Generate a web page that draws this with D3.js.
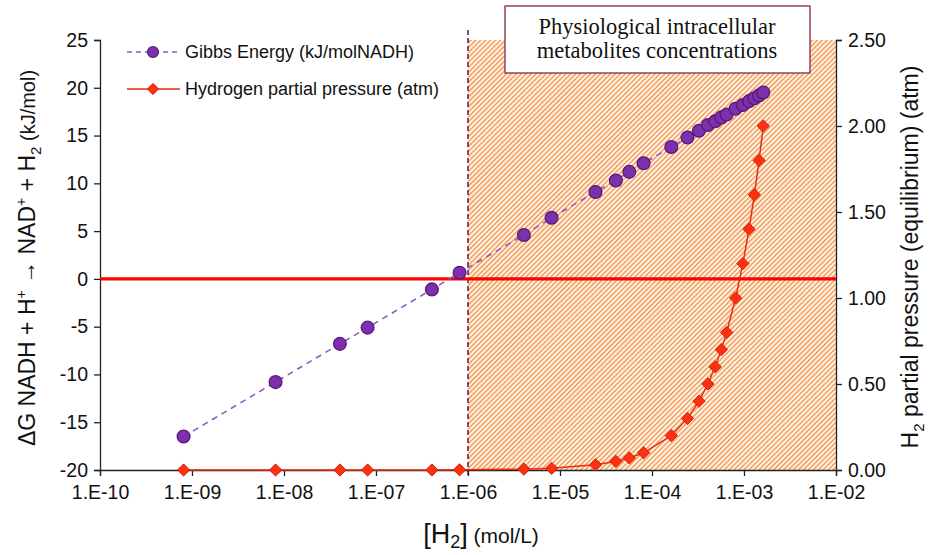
<!DOCTYPE html>
<html>
<head>
<meta charset="utf-8">
<script src="https://cdn.jsdelivr.net/npm/d3@7"></script>
<style>
  body { margin: 0; background: #fff; }
  svg { display: block; }
  text { font-family: "Liberation Sans", Arial, sans-serif; fill: #111; }
</style>
</head>
<body>
<svg id="chart" width="945" height="555"></svg>
<script>
// [H2] concentrations (mol/L) shared by both series
var conc = [8.1e-10, 8.1e-9, 4.05e-8, 8.1e-8, 4.05e-7, 8.1e-7, 4.05e-6, 8.1e-6,
            2.43e-5, 4.05e-5, 5.67e-5, 8.1e-5, 1.62e-4, 2.43e-4, 3.24e-4, 4.05e-4,
            4.86e-4, 5.67e-4, 6.48e-4, 8.1e-4, 9.72e-4, 1.134e-3, 1.296e-3, 1.458e-3, 1.62e-3];
// Gibbs energy (kJ/mol NADH)
var gibbs = [-16.5, -10.8, -6.8, -5.1, -1.1, 0.65, 4.6, 6.4,
             9.1, 10.3, 11.2, 12.1, 13.8, 14.8, 15.5, 16.1,
             16.5, 16.9, 17.2, 17.8, 18.2, 18.6, 18.9, 19.2, 19.5];
// hydrogen partial pressure (atm)
var pressure = [0, 0, 0, 0, 0, 0.001, 0.005, 0.01,
                0.03, 0.05, 0.07, 0.1, 0.2, 0.3, 0.4, 0.5,
                0.6, 0.7, 0.8, 1.0, 1.2, 1.4, 1.6, 1.8, 2.0];

var xTicks = [1e-10, 1e-9, 1e-8, 1e-7, 1e-6, 1e-5, 1e-4, 1e-3, 1e-2];
var leftTicks = [-20, -15, -10, -5, 0, 5, 10, 15, 20, 25];
var rightTicks = [0, 0.5, 1.0, 1.5, 2.0, 2.5];
var zoneStart = 1e-6;   // physiological region begins here
var boxLines = ["Physiological intracellular", "metabolites concentrations"];

var pLeft = 100, pRight = 836, pTop = 40, pBottom = 470;

var svg = d3.select("#chart");

var x = d3.scaleLog().domain([1e-10, 1e-2]).range([pLeft, pRight]);
var yL = d3.scaleLinear().domain([-20, 25]).range([pBottom, pTop]);
var yR = d3.scaleLinear().domain([0, 2.5]).range([pBottom, pTop]);

// hatch pattern for the physiological zone
var defs = svg.append("defs");
var pat = defs.append("pattern")
    .attr("id", "hatch")
    .attr("patternUnits", "userSpaceOnUse")
    .attr("width", 3.5).attr("height", 3.5)
    .attr("patternTransform", "rotate(45)");
pat.append("rect").attr("width", 3.5).attr("height", 3.5).attr("fill", "#fff6ec");
pat.append("line")
    .attr("x1", 0.8).attr("y1", 0).attr("x2", 0.8).attr("y2", 3.5)
    .attr("stroke", "#f39a55").attr("stroke-width", 1.5);

svg.append("rect")
    .attr("x", x(zoneStart)).attr("y", pTop)
    .attr("width", pRight - x(zoneStart)).attr("height", pBottom - pTop)
    .attr("fill", "url(#hatch)");

// dashed boundary
svg.append("line")
    .attr("x1", x(zoneStart)).attr("x2", x(zoneStart))
    .attr("y1", pTop - 10).attr("y2", pBottom + 8)
    .attr("stroke", "#6e2446").attr("stroke-width", 1.6)
    .attr("stroke-dasharray", "5,3");

// axes
var xAxis = d3.axisBottom(x).tickValues(xTicks).tickSize(6)
    .tickFormat(function(d) { return "1.E-" + String(-Math.round(Math.log10(d))).padStart(2, "0"); });
var gx = svg.append("g").attr("transform", "translate(0," + pBottom + ")").call(xAxis);

var gl = svg.append("g").attr("transform", "translate(" + pLeft + ",0)")
    .call(d3.axisLeft(yL).tickValues(leftTicks).tickSize(6)
      .tickFormat(function(d) { return String(d); }));

var gr = svg.append("g").attr("transform", "translate(" + pRight + ",0)")
    .call(d3.axisRight(yR).tickValues(rightTicks).tickSize(6).tickFormat(d3.format(".2f")));

[gx, gl, gr].forEach(function(g) {
  g.select(".domain").attr("stroke", "#222").attr("stroke-width", 1.3);
  g.selectAll(".tick line").attr("stroke", "#222").attr("stroke-width", 1.3);
  g.selectAll(".tick text").style("font-size", "19.5px").attr("fill", "#111")
    .style("font-family", "'Liberation Sans', Arial, sans-serif");
});
gx.selectAll(".tick text").attr("dy", "1.0em");
gl.selectAll(".tick text").attr("x", -12);
gr.selectAll(".tick text").attr("x", 12);

// zero line
svg.append("line")
    .attr("x1", pLeft).attr("x2", pRight)
    .attr("y1", yL(0)).attr("y2", yL(0))
    .attr("stroke", "#ff0000").attr("stroke-width", 3.2);

var rows = conc.map(function(c, i) { return { c: c, g: gibbs[i], p: pressure[i] }; });

// pressure series
svg.append("path").datum(rows)
    .attr("fill", "none").attr("stroke", "#ee2a14").attr("stroke-width", 1.5)
    .attr("d", d3.line().x(function(d) { return x(d.c); }).y(function(d) { return yR(d.p); }));

var diamond = d3.symbol().type(d3.symbolDiamond2).size(95);
svg.append("g").selectAll("path").data(rows).enter().append("path")
    .attr("d", diamond)
    .attr("transform", function(d) { return "translate(" + x(d.c) + "," + yR(d.p) + ")"; })
    .attr("fill", "#ff3010").attr("stroke", "#c8200a").attr("stroke-width", 1);

// gibbs series
svg.append("path").datum(rows)
    .attr("fill", "none").attr("stroke", "#8a5cc0").attr("stroke-width", 1.6)
    .attr("stroke-dasharray", "6,5")
    .attr("d", d3.line().x(function(d) { return x(d.c); }).y(function(d) { return yL(d.g); }));

svg.append("g").selectAll("circle").data(rows).enter().append("circle")
    .attr("cx", function(d) { return x(d.c); })
    .attr("cy", function(d) { return yL(d.g); })
    .attr("r", 6.4)
    .attr("fill", "#7d2fae").attr("stroke", "#561b78").attr("stroke-width", 1.3);

// legend
var lg = svg.append("g");
lg.append("line").attr("x1", 127).attr("x2", 180).attr("y1", 52).attr("y2", 52)
    .attr("stroke", "#8a5cc0").attr("stroke-width", 1.6).attr("stroke-dasharray", "5,4");
lg.append("circle").attr("cx", 153).attr("cy", 52).attr("r", 5.5)
    .attr("fill", "#7d2fae").attr("stroke", "#561b78").attr("stroke-width", 1.2);
lg.append("text").attr("x", 185).attr("y", 58).style("font-size", "18px")
    .text("Gibbs Energy (kJ/molNADH)");
lg.append("line").attr("x1", 127).attr("x2", 180).attr("y1", 89).attr("y2", 89)
    .attr("stroke", "#ee2a14").attr("stroke-width", 1.5);
lg.append("path").attr("d", d3.symbol().type(d3.symbolDiamond2).size(80))
    .attr("transform", "translate(153,89)")
    .attr("fill", "#ff3010").attr("stroke", "#c8200a");
lg.append("text").attr("x", 185).attr("y", 95).style("font-size", "18px")
    .text("Hydrogen partial pressure (atm)");

// annotation box
svg.append("rect").attr("x", 505).attr("y", 6).attr("width", 305).attr("height", 67)
    .attr("fill", "#fff").attr("stroke", "#8c3658").attr("stroke-width", 1.4);
svg.append("g").selectAll("text").data(boxLines).enter().append("text")
    .attr("x", 657).attr("y", function(d, i) { return 34 + i * 24; })
    .attr("text-anchor", "middle")
    .style("font-family", "'Liberation Serif', 'DejaVu Serif', serif")
    .style("font-size", "22.5px")
    .text(function(d) { return d; });

// left axis title
var lt = svg.append("text")
    .attr("transform", "translate(35," + 258 + ") rotate(-90)")
    .attr("text-anchor", "middle")
    .style("font-size", "23px");
lt.append("tspan").text("\u0394G NADH + H");
lt.append("tspan").attr("dy", -9).style("font-size", "14px").text("+");
lt.append("tspan").attr("dy", 9).text(" \u2192 NAD");
lt.append("tspan").attr("dy", -9).style("font-size", "14px").text("+");
lt.append("tspan").attr("dy", 9).text(" + H");
lt.append("tspan").attr("dy", 6).style("font-size", "15px").text("2");
lt.append("tspan").attr("dy", -6).style("font-size", "20px").text("  (kJ/mol)");

// right axis title
var rt = svg.append("text")
    .attr("transform", "translate(918," + 257 + ") rotate(-90)")
    .attr("text-anchor", "middle")
    .style("font-size", "23px");
rt.append("tspan").text("H");
rt.append("tspan").attr("dy", 6).style("font-size", "15px").text("2");
rt.append("tspan").attr("dy", -6).text(" partial pressure (equilibrium) (atm)");

// x axis title
var xt = svg.append("text")
    .attr("x", 481).attr("y", 543)
    .attr("text-anchor", "middle")
    .style("font-size", "27px");
xt.append("tspan").text("[H");
xt.append("tspan").attr("dy", 5).style("font-size", "18px").text("2");
xt.append("tspan").attr("dy", -5).text("]");
xt.append("tspan").style("font-size", "21px").text(" (mol/L)");
</script>
</body>
</html>
